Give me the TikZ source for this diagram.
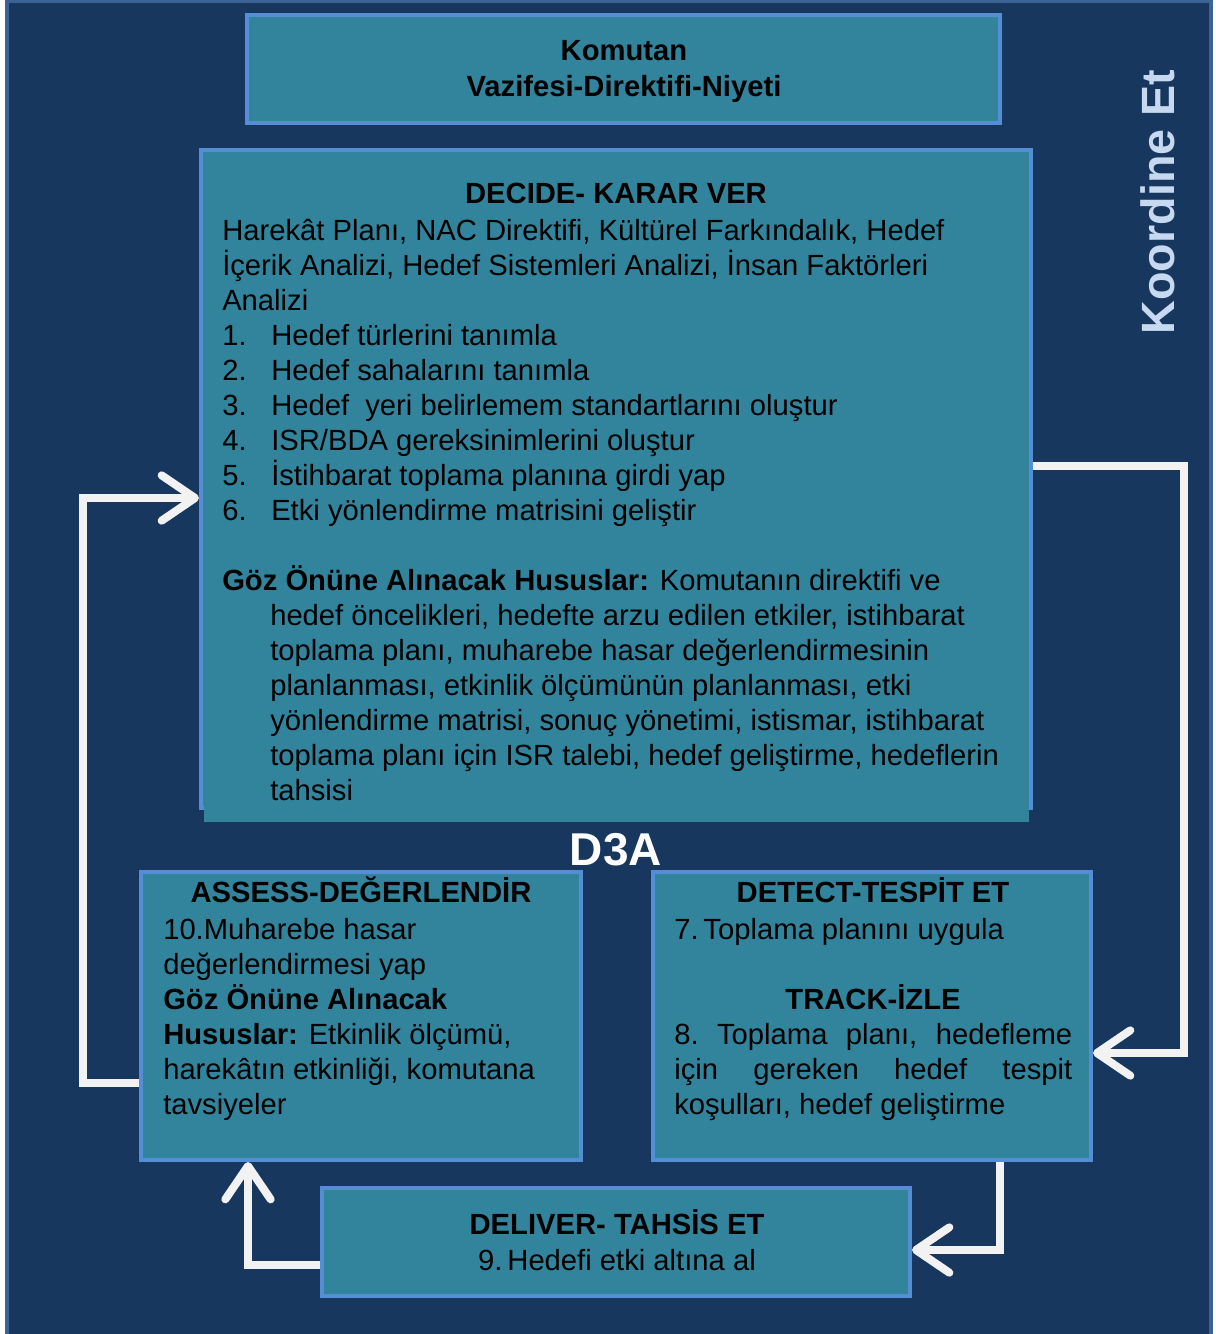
\documentclass[tikz,border=0pt]{standalone}
\usepackage{fontspec}
\setmainfont{Liberation Sans}
\usetikzlibrary{arrows.meta,fit}
\definecolor{bg}{HTML}{17375E}
\definecolor{framec}{HTML}{3D6394}
\definecolor{boxfill}{HTML}{31849B}
\definecolor{boxline}{HTML}{558ED5}
\definecolor{arrowc}{HTML}{F2F2F2}
\definecolor{koord}{HTML}{C6D9F1}
\begin{document}
\begin{tikzpicture}[x=0.75pt,y=-0.75pt,
  box/.style={draw=boxline, line width=3pt, fill=boxfill, inner sep=0pt},
  txt/.style={font=\fontsize{21.9}{26}\selectfont, inner sep=0pt, anchor=base west, text=black},
  ctxt/.style={txt, anchor=base},
  btxt/.style={ctxt, font=\fontsize{21.9}{26}\selectfont\bfseries},
  flow/.style={draw=arrowc, line width=6pt, line join=miter, -{Straight Barb[length=25pt,width=34pt,round]}},
]
\fill[white] (0,0) rectangle (1215,1334);
\useasboundingbox (0,0) rectangle (1215,1334);
\node[draw=framec, line width=2.5pt, fill=bg, inner sep=0pt, fit={(7,1) (1211,1345)}] (frame) {};

% boxes
\node[box, fit={(247,15) (1000,123)}] (top) {};
\node[box, fit={(201,150) (1031,808)}] (decide) {};
\fill[boxfill] (204,160) rectangle (1029,822);
\node[box, fit={(141,872) (581,1160)}] (assess) {};
\node[box, fit={(653,872) (1091,1160)}] (detect) {};
\node[box, fit={(322,1188) (910,1296)}] (deliver) {};

% top box text
\node[btxt] (t1) at (624,61) {Komutan};
\node[btxt] (t2) at (624,97) {Vazifesi-Direktifi-Niyeti};

% decide text
\node[btxt] (dt) at (616,203) {DECIDE- KARAR VER};
\node[txt] (d1) at (222,240) {Harekât Planı, NAC Direktifi, Kültürel Farkındalık, Hedef};
\node[txt] (d2) at (222,275) {İçerik Analizi, Hedef Sistemleri Analizi, İnsan Faktörleri};
\node[txt] (d3) at (222,310) {Analizi};
\foreach \t [count=\k] in {Hedef türlerini tanımla, Hedef sahalarını tanımla, Hedef\ \ yeri belirlemem standartlarını oluştur, ISR/BDA gereksinimlerini oluştur, İstihbarat toplama planına girdi yap, Etki yönlendirme matrisini geliştir}{
  \node[txt] (n\k) at (222,{345+35*(\k-1)}) {\k.};
  \node[txt] (m\k) at (271,{345+35*(\k-1)}) {\t};
}
\node[txt] (g1) at (222,590) {\textbf{Göz Önüne Alınacak Hususlar:} Komutanın direktifi ve};
\foreach \t [count=\k] in {{hedef öncelikleri, hedefte arzu edilen etkiler, istihbarat},{toplama planı, muharebe hasar değerlendirmesinin},{planlanması, etkinlik ölçümünün planlanması, etki},{yönlendirme matrisi, sonuç yönetimi, istismar, istihbarat},{toplama planı için ISR talebi, hedef geliştirme, hedeflerin},{tahsisi}}{
  \node[txt] (g\k x) at (270,{625+35*(\k-1)}) {\t};
}

% D3A and Koordine Et
\node[font=\fontsize{34.5}{40}\selectfont\bfseries, text=white, inner sep=0pt] (d3a) at (616,850) {D3A};
\node[rotate=90, font=\fontsize{35}{40}\selectfont\bfseries, text=koord, inner sep=0pt] (koord) at (1158,202) {Koordine Et};

% assess text
\node[btxt] (at) at (361,902) {ASSESS-DEĞERLENDİR};
\node[txt] (a1) at (163,939) {10.Muharebe hasar};
\node[txt] (a2) at (163,974) {değerlendirmesi yap};
\node[txt] (a3) at (163,1009) {\textbf{Göz Önüne Alınacak}};
\node[txt] (a4) at (163,1044) {\textbf{Hususlar:} Etkinlik ölçümü,};
\node[txt] (a5) at (163,1079) {harekâtın etkinliği, komutana};
\node[txt] (a6) at (163,1114) {tavsiyeler};

% detect text
\node[btxt] (et) at (873,902) {DETECT-TESPİT ET};
\node[txt] (e1) at (674,939) {7.\,Toplama planını uygula};
\node[btxt] (e2) at (873,1009) {TRACK-İZLE};
\node[txt] (e3) at (674,1044) {\hbox to 298.5pt{8.\hfill Toplama\hfill planı,\hfill hedefleme}};
\node[txt] (e4) at (674,1079) {\hbox to 298.5pt{için\hfill gereken\hfill hedef\hfill tespit}};
\node[txt] (e5) at (674,1114) {koşulları, hedef geliştirme};

% deliver text
\node[btxt] (lt) at (617,1234) {DELIVER- TAHSİS ET};
\node[ctxt] (l1) at (617,1270) {9.\,Hedefi etki altına al};

% connectors
\draw[flow] ([yshift=9.75pt]decide.east) -- ++(151,0) |- ([yshift=-27.75pt]detect.east);
\draw[flow] ([xshift=96pt]detect.south) |- ([yshift=-6pt]deliver.east);
\draw[flow] ([yshift=-17.25pt]deliver.west) -| ([xshift=-84.75pt]assess.south);
\draw[flow] ([yshift=-50.25pt]assess.west) -- ++(-56,0) |- ([yshift=-14.25pt]decide.west);
\end{tikzpicture}
\end{document}
